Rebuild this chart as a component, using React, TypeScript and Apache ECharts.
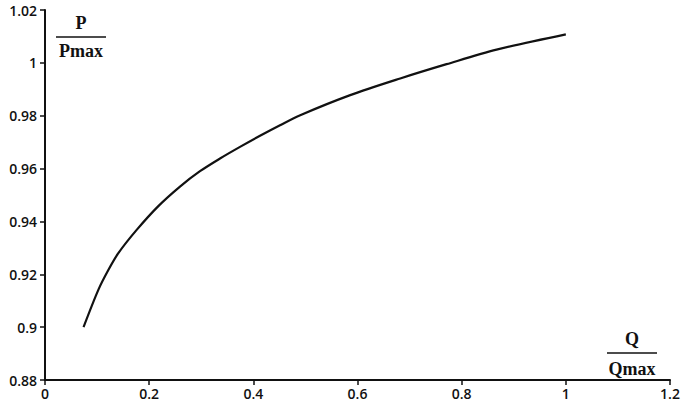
import React, { useEffect, useRef } from "react";
import * as echarts from "echarts";

const qRatio = [0.074, 0.1024, 0.1216, 0.1408, 0.176, 0.2176, 0.2592, 0.2976, 0.336, 0.3744, 0.4128, 0.4512, 0.49, 0.586, 0.682, 0.771, 0.867, 1.0];
const pRatio = [0.9, 0.9141, 0.9216, 0.928, 0.9368, 0.9458, 0.9532, 0.959, 0.9638, 0.9682, 0.9724, 0.9764, 0.9802, 0.9878, 0.9941, 0.9995, 1.005, 1.0108];

const yLabelTitle = { num: "P", den: "Pmax" };
const xLabelTitle = { num: "Q", den: "Qmax" };

export default function App() {
  const ref = useRef<HTMLDivElement>(null);
  useEffect(() => {
    if (!ref.current) return;
    const chart = echarts.init(ref.current, null, { renderer: "svg" });
    const axisFont = { fontFamily: "Open Sans", fontSize: 14, fontWeight: 600, color: "#111" };
    const titleFont = { fontFamily: "Liberation Serif", fontSize: 18, fontWeight: "bold", fill: "#111" };
    chart.setOption({
      animation: false,
      backgroundColor: "#fff",
      grid: { left: 45, right: 15, top: 10, bottom: 22, containLabel: false },
      xAxis: {
        type: "value",
        min: 0,
        max: 1.2,
        interval: 0.2,
        splitLine: { show: false },
        axisLine: { show: true, onZero: false, lineStyle: { color: "#111", width: 2 } },
        axisTick: { show: true, inside: false, length: 5, lineStyle: { color: "#111", width: 1.5 } },
        axisLabel: { ...axisFont, margin: 6, formatter: (v: number) => String(Math.round(v * 10) / 10) },
      },
      yAxis: {
        type: "value",
        min: 0.88,
        max: 1.02,
        interval: 0.02,
        splitLine: { show: false },
        axisLine: { show: true, onZero: false, lineStyle: { color: "#111", width: 2 } },
        axisTick: { show: true, inside: false, length: 5, lineStyle: { color: "#111", width: 1.5 } },
        axisLabel: { ...axisFont, margin: 8, formatter: (v: number) => String(Math.round(v * 100) / 100) },
      },
      series: [
        {
          type: "line",
          data: qRatio.map((q, i) => [q, pRatio[i]]),
          smooth: 0.3,
          symbol: "none",
          lineStyle: { color: "#111", width: 2.2 },
        },
      ],
      graphic: [
        { type: "text", x: 81, y: 14, style: { text: yLabelTitle.num, ...titleFont, textAlign: "center" } },
        { type: "line", shape: { x1: 56, y1: 37, x2: 106, y2: 37 }, style: { stroke: "#111", lineWidth: 1.5 } },
        { type: "text", x: 81, y: 42, style: { text: yLabelTitle.den, ...titleFont, textAlign: "center" } },
        { type: "text", x: 632, y: 330, style: { text: xLabelTitle.num, ...titleFont, textAlign: "center" } },
        { type: "line", shape: { x1: 607, y1: 353, x2: 657, y2: 353 }, style: { stroke: "#111", lineWidth: 1.5 } },
        { type: "text", x: 632, y: 360, style: { text: xLabelTitle.den, ...titleFont, textAlign: "center" } },
      ],
    });
    return () => chart.dispose();
  }, []);
  return <div ref={ref} style={{ width: 685, height: 402, position: "absolute", left: 0, top: 0 }} />;
}
